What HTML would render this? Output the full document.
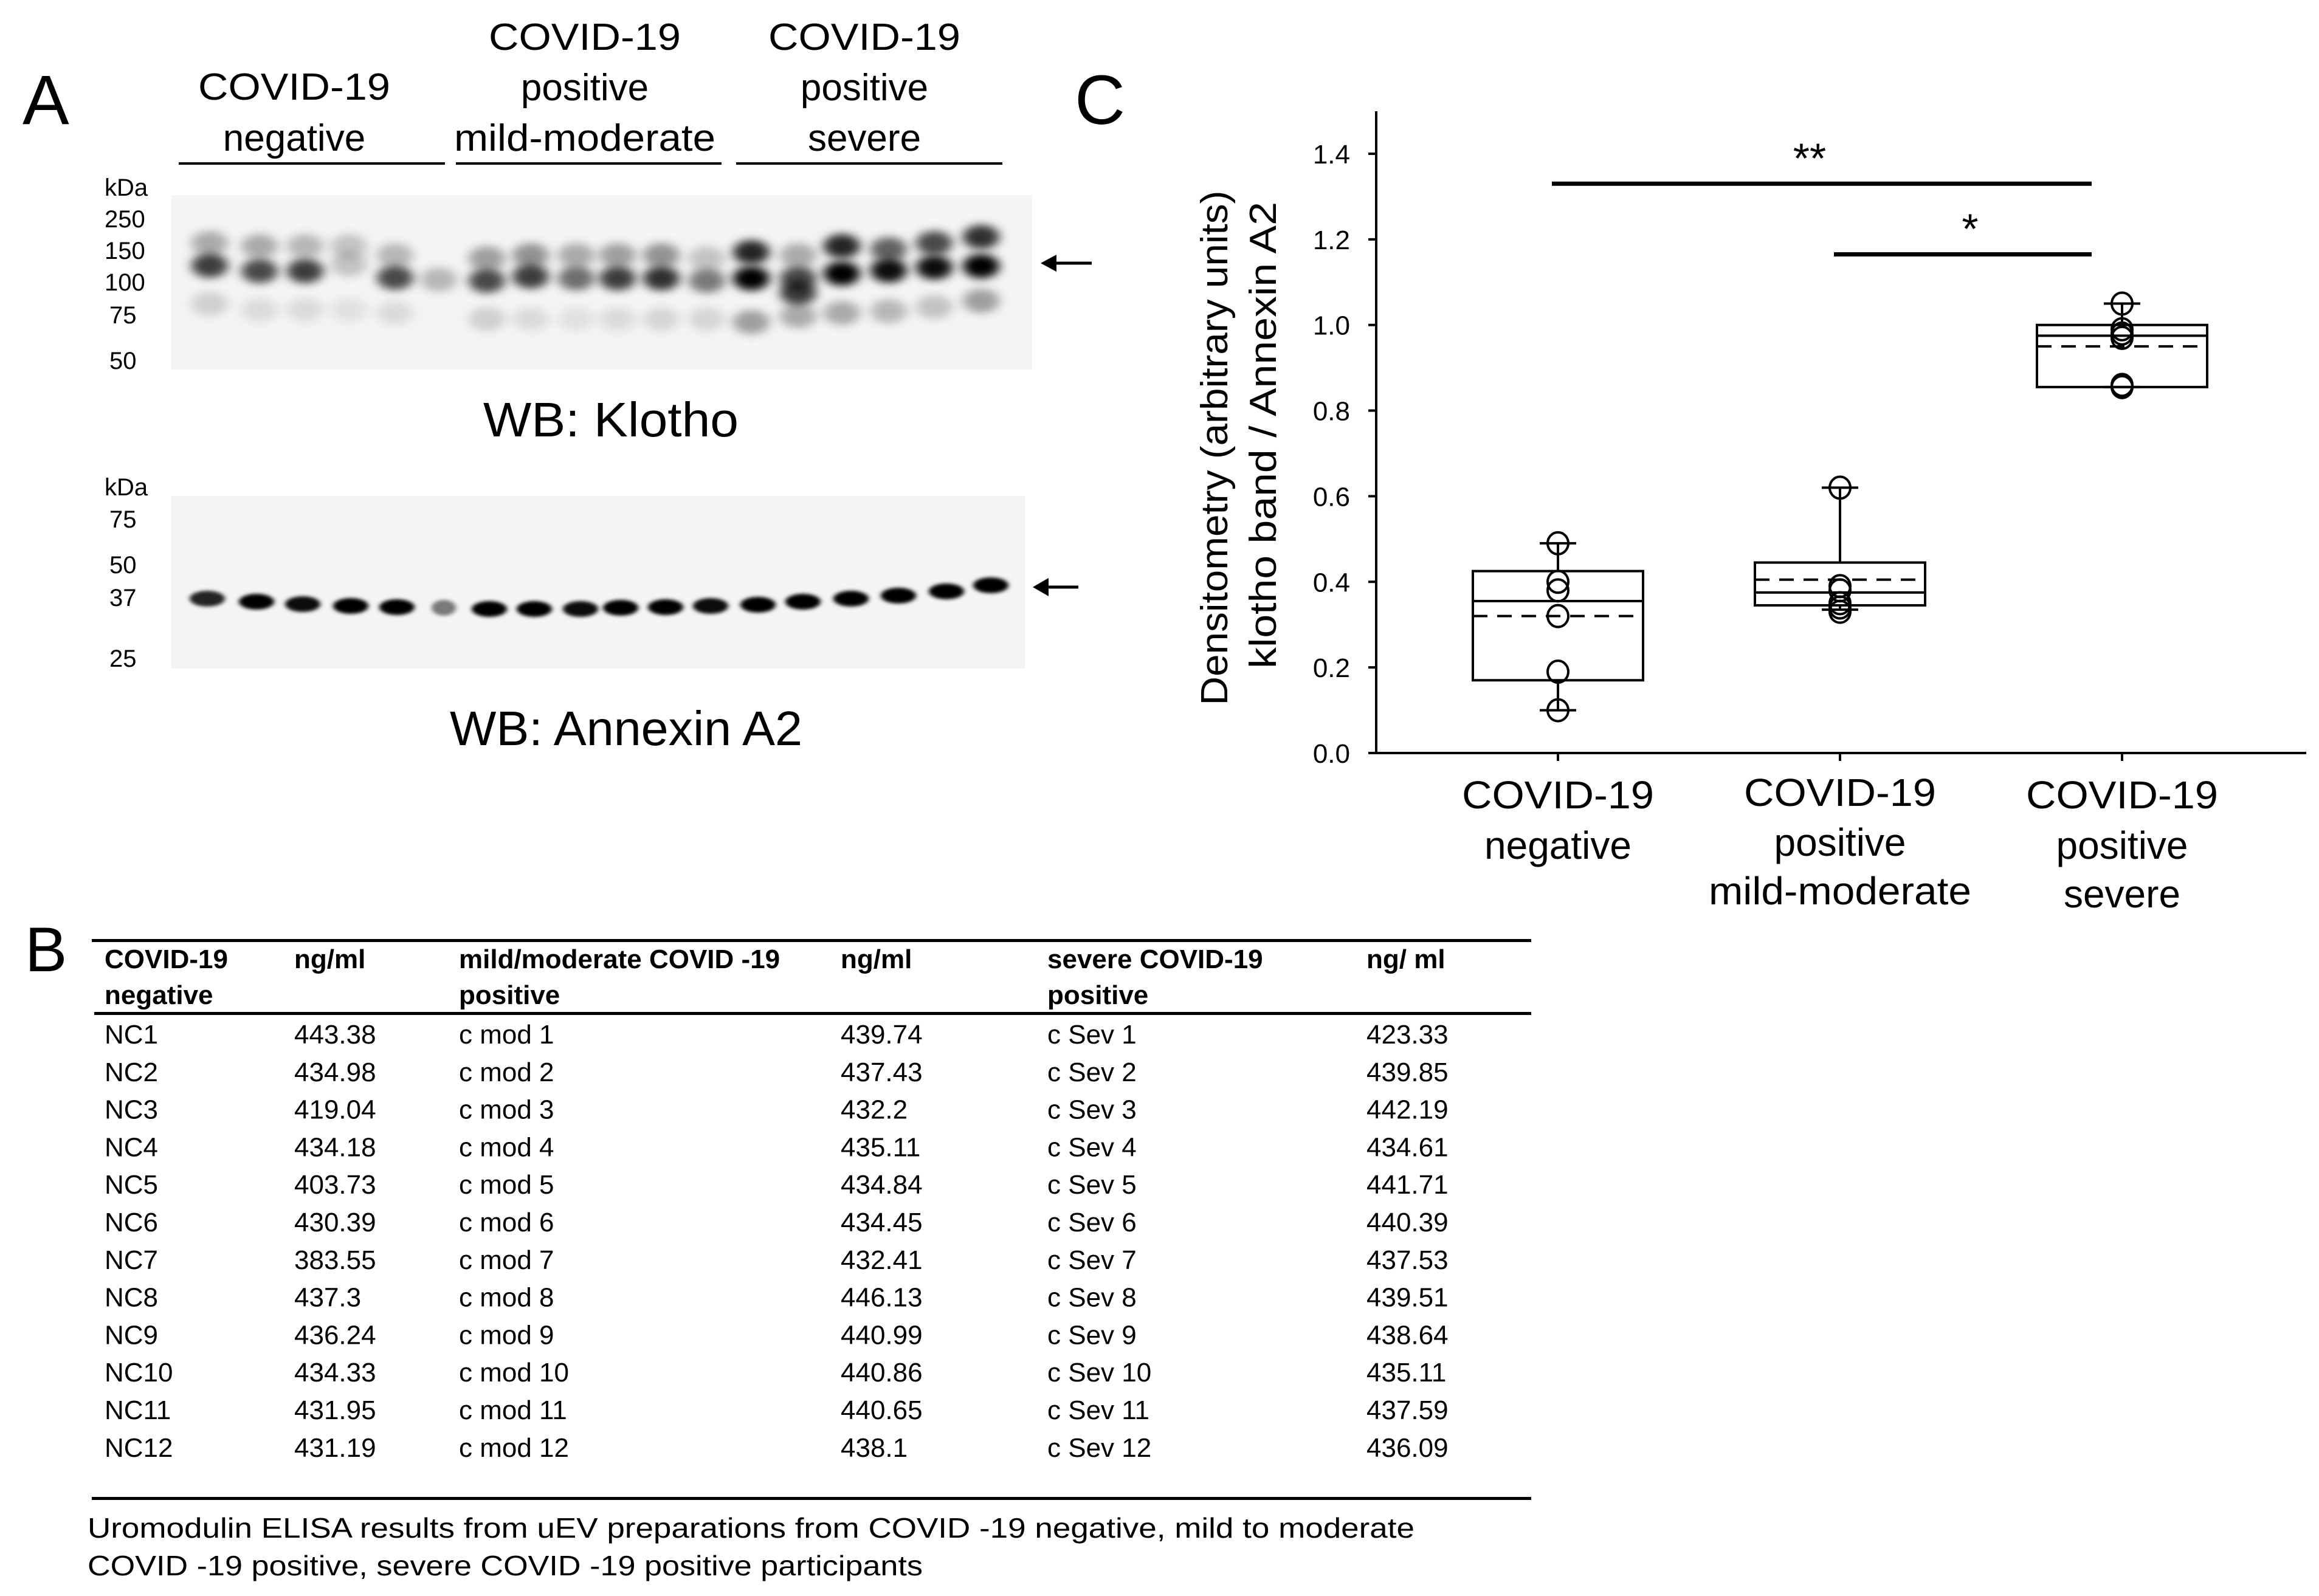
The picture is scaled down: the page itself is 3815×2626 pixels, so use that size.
<!DOCTYPE html>
<html><head><meta charset="utf-8"><style>
html,body{margin:0;padding:0;background:#fff}
svg{display:block}
text{font-family:"Liberation Sans",Arial,sans-serif;fill:#000}
</style></head><body>
<svg id="fig" xmlns="http://www.w3.org/2000/svg" width="3815" height="2626" viewBox="0 0 3815 2626">
<defs>
<filter id="blur6" x="-50%" y="-200%" width="200%" height="500%"><feGaussianBlur stdDeviation="9 7"/></filter>
<filter id="blur3" x="-50%" y="-200%" width="200%" height="500%"><feGaussianBlur stdDeviation="4 3"/></filter>
</defs>
<!-- Panel A -->
<g>
<text x="37" y="204" font-size="115">A</text>
<g font-size="62" text-anchor="middle">
<text x="484" y="164" textLength="316" lengthAdjust="spacingAndGlyphs">COVID-19</text>
<text x="484" y="248">negative</text>
<text x="962" y="82" textLength="316" lengthAdjust="spacingAndGlyphs">COVID-19</text>
<text x="962" y="165">positive</text>
<text x="962" y="248" textLength="430" lengthAdjust="spacingAndGlyphs">mild-moderate</text>
<text x="1422" y="82" textLength="316" lengthAdjust="spacingAndGlyphs">COVID-19</text>
<text x="1422" y="165">positive</text>
<text x="1422" y="248">severe</text>
</g>
<g stroke="#000" stroke-width="4">
<line x1="294" y1="269" x2="732" y2="269"/>
<line x1="750" y1="269" x2="1187" y2="269"/>
<line x1="1211" y1="269" x2="1649" y2="269"/>
</g>
<g font-size="40">
<text x="172" y="322">kDa</text>
<text x="172" y="374">250</text>
<text x="172" y="426">150</text>
<text x="172" y="478">100</text>
<text x="180" y="532">75</text>
<text x="180" y="607">50</text>
</g>
<rect x="282" y="321" width="1416" height="287" fill="#f4f4f4"/>
<g id="klothoBands"></g>
<g><line x1="1730" y1="433" x2="1796" y2="433" stroke="#000" stroke-width="5"/><polygon points="1712,433 1738,419 1738,447" fill="#000"/></g>
<text x="1005" y="718" font-size="80" text-anchor="middle" textLength="420" lengthAdjust="spacingAndGlyphs">WB: Klotho</text>
<g font-size="40">
<text x="172" y="815">kDa</text>
<text x="180" y="868">75</text>
<text x="180" y="943">50</text>
<text x="180" y="997">37</text>
<text x="180" y="1097">25</text>
</g>
<rect x="282" y="816" width="1404" height="284" fill="#f4f4f4"/>
<g id="annexinBands"></g>
<g><line x1="1718" y1="966" x2="1774" y2="966" stroke="#000" stroke-width="5"/><polygon points="1699,966 1725,951 1725,981" fill="#000"/></g>
<text x="1030" y="1226" font-size="80" text-anchor="middle" textLength="580" lengthAdjust="spacingAndGlyphs">WB: Annexin A2</text>
</g>
<!-- Panel C -->
<text x="1768" y="204" font-size="115">C</text>
<g id="chart"></g>
<!-- Panel B -->
<g id="table">
<text x="41" y="1598" font-size="104">B</text>
<rect x="151" y="1545" width="2368" height="5" fill="#000"/>
<rect x="155" y="1665" width="2364" height="5" fill="#000"/>
<rect x="151" y="2463" width="2368" height="5" fill="#000"/>
<g font-size="44" font-weight="bold">
<text x="172" y="1593">COVID-19</text><text x="172" y="1652">negative</text>
<text x="484" y="1593">ng/ml</text>
<text x="755" y="1593">mild/moderate COVID -19</text><text x="755" y="1652">positive</text>
<text x="1383" y="1593">ng/ml</text>
<text x="1723" y="1593">severe COVID-19</text><text x="1723" y="1652">positive</text>
<text x="2248" y="1593">ng/ ml</text>
</g>
<g id="tbody" font-size="44"></g>
<text x="144" y="2530" font-size="46" textLength="2183" lengthAdjust="spacingAndGlyphs">Uromodulin ELISA results from   uEV preparations from COVID -19 negative, mild to moderate</text>
<text x="144" y="2592" font-size="46" textLength="1374" lengthAdjust="spacingAndGlyphs">COVID -19 positive, severe COVID -19 positive participants</text>
</g>
</svg>
<script>
// ---- Chart data (panel C) ----
const categories1 = ["COVID-19","COVID-19","COVID-19"];
const categories2 = ["negative","positive","positive"];
const categories3 = ["","mild-moderate","severe"];
const whiskerLow = [0.10, 0.335, 0.855];
const q1 = [0.17, 0.345, 0.855];
const median = [0.355, 0.375, 0.975];
const meanVals = [0.32, 0.405, 0.95];
const q3 = [0.425, 0.445, 1.0];
const whiskerHigh = [0.49, 0.62, 1.05];
const points = [[0.10,0.19,0.32,0.38,0.40,0.49],[0.33,0.34,0.35,0.38,0.39,0.62],[0.855,0.86,0.97,0.98,0.99,1.05]];
const yTicks = [0.0,0.2,0.4,0.6,0.8,1.0,1.2,1.4];
const yTickLabels = ["0.0","0.2","0.4","0.6","0.8","1.0","1.2","1.4"];
const sigFrom = [0, 1];
const sigTo = [2, 2];
const sigLevel = [1.33, 1.165];
const sigLabel = ["**", "*"];

const NS = "http://www.w3.org/2000/svg";
function mk(tag, attrs, parent){const e=document.createElementNS(NS,tag);for(const k in attrs)e.setAttribute(k,attrs[k]);parent.appendChild(e);return e;}
const X0=2264, X1=3794, Y0=1239, YTOP=183;
function yScale(v){return Y0 - v*(986/1.4);}
function xScale(i){return 2563 + i*464;}
const chart=document.getElementById('chart');
let ax=mk('line',{x1:X0,y1:YTOP,x2:X0,y2:Y0+2,stroke:'#000','stroke-width':4},chart);


let xa=mk('line',{x1:X0-2,y1:Y0,x2:X1,y2:Y0,stroke:'#000','stroke-width':4},chart);


yTicks.forEach((v,i)=>{
  const y=yScale(v);
  const t=mk('line',{x1:X0-13,y1:y,x2:X0,y2:y,stroke:'#000','stroke-width':4},chart);
  
  
  const l=mk('text',{x:2221,y:y+16,'font-size':44,'text-anchor':'end'},chart);
  l.textContent=yTickLabels[i];
  
  
});
const t1=mk('text',{x:0,y:0,'font-size':62,'text-anchor':'middle',textLength:847,lengthAdjust:'spacingAndGlyphs',transform:'translate(2019,737) rotate(-90)'},chart);
t1.textContent='Densitometry (arbitrary units)';


const t2=mk('text',{x:0,y:0,'font-size':62,'text-anchor':'middle',textLength:768,lengthAdjust:'spacingAndGlyphs',transform:'translate(2099,716) rotate(-90)'},chart);
t2.textContent='klotho band / Annexin A2';


categories1.forEach((c,i)=>{
  const cx=xScale(i);
  const tk=mk('line',{x1:cx,y1:Y0,x2:cx,y2:Y0+13,stroke:'#000','stroke-width':4},chart);
  
  
  const lines=[categories1[i],categories2[i],categories3[i]].filter(s=>s);
  const ys = i===1 ? [1326,1408,1488] : [1330,1413,1493];
  lines.forEach((s,j)=>{
    const attrs={x:cx,y:ys[j],'font-size':64,'text-anchor':'middle'};
    if(s==='COVID-19'){attrs.textLength=316;attrs.lengthAdjust='spacingAndGlyphs';}
    if(s==='mild-moderate'){attrs.textLength=432;attrs.lengthAdjust='spacingAndGlyphs';}
    const t=mk('text',attrs,chart);t.textContent=s;
    
    
  });
  const hw=140;
  const g=mk('g',{},chart);
  
  
  mk('line',{x1:cx,y1:yScale(whiskerHigh[i]),x2:cx,y2:yScale(q3[i]),stroke:'#000','stroke-width':4},g);
  mk('line',{x1:cx,y1:yScale(whiskerLow[i]),x2:cx,y2:yScale(q1[i]),stroke:'#000','stroke-width':4},g);
  mk('line',{x1:cx-30,y1:yScale(whiskerHigh[i]),x2:cx+30,y2:yScale(whiskerHigh[i]),stroke:'#000','stroke-width':4},g);
  mk('line',{x1:cx-30,y1:yScale(whiskerLow[i]),x2:cx+30,y2:yScale(whiskerLow[i]),stroke:'#000','stroke-width':4},g);
  const b=mk('rect',{x:cx-hw,y:yScale(q3[i]),width:2*hw,height:yScale(q1[i])-yScale(q3[i]),fill:'none',stroke:'#000','stroke-width':4},g);
  
  
  const m=mk('line',{x1:cx-hw,y1:yScale(median[i]),x2:cx+hw,y2:yScale(median[i]),stroke:'#000','stroke-width':4},g);
  
  
  const mn=mk('line',{x1:cx-hw,y1:yScale(meanVals[i]),x2:cx+hw,y2:yScale(meanVals[i]),stroke:'#000','stroke-width':4,'stroke-dasharray':'24 16'},g);
  
  
  points[i].forEach(v=>{
    const p=mk('ellipse',{cx:cx,cy:yScale(v),rx:17,ry:18,fill:'none',stroke:'#000','stroke-width':4},g);
    
    
  });
});
sigLevel.forEach((v,k)=>{
  const y=yScale(v);
  const xa1=xScale(sigFrom[k])-10, xa2=xScale(sigTo[k])-50;
  const l=mk('line',{x1:xa1,y1:y,x2:xa2,y2:y,stroke:'#000','stroke-width':7},chart);
  
  
  const t=mk('text',{x:(xa1+xa2)/2+(k?12:-20),y:y-18,'font-size':70,'text-anchor':'middle'},chart);
  t.textContent=sigLabel[k];
  
  
});

// ---- Western blot bands ----
const kLaneX=[345,427,502,574,650,722,801,873,948,1016,1088,1163,1236,1313,1385,1462,1537,1614];
const kBands=[
 [[400,.3],[437,.75],[500,.15]],[[405,.3],[446,.7],[510,.1]],[[405,.25],[446,.75],[510,.1]],
 [[405,.2],[435,.2],[510,.08]],[[420,.25],[457,.7],[515,.1]],[[460,.25]],
 [[425,.35],[462,.7],[525,.15]],[[420,.4],[455,.75],[525,.1]],[[420,.3],[458,.55],[525,.08]],
 [[420,.35],[458,.75],[525,.1]],[[420,.4],[458,.8],[525,.12]],[[425,.2],[462,.5],[525,.12]],
 [[415,.85],[458,1],[530,.35]],[[420,.3],[458,.7],[482,.75],[520,.3]],[[405,.85],[450,1],[515,.3]],
 [[410,.6],[445,.95],[512,.25]],[[400,.7],[440,.95],[505,.2]],[[390,.8],[438,1],[495,.35]]];
const kg=document.getElementById('klothoBands');
kLaneX.forEach((x,i)=>{kBands[i].forEach(b=>{
  const e=mk('ellipse',{cx:x,cy:b[0],rx:30,ry:20,fill:'#000','fill-opacity':b[1],filter:'url(#blur6)'},kg);
  
  
});});
const aLaneX=[341,422,498,577,653,730,805,879,955,1021,1095,1169,1247,1321,1400,1478,1557,1630];
const aLaneY=[985,990,994,997,999,1000,1002,1002,1002,1000,999,997,995,990,985,980,973,963];
const aInt=[.85,1,.95,1,1,.5,1,1,.95,1,1,.95,1,1,1,1,1,1];
const ag=document.getElementById('annexinBands');
aLaneX.forEach((x,i)=>{
  const e=mk('ellipse',{cx:x,cy:aLaneY[i],rx:i===5?20:29,ry:13,fill:'#000','fill-opacity':aInt[i],filter:'url(#blur3)'},ag);
  
  
});

// ---- Table B ----
const tNC=["443.38","434.98","419.04","434.18","403.73","430.39","383.55","437.3","436.24","434.33","431.95","431.19"];
const tMod=["439.74","437.43","432.2","435.11","434.84","434.45","432.41","446.13","440.99","440.86","440.65","438.1"];
const tSev=["423.33","439.85","442.19","434.61","441.71","440.39","437.53","439.51","438.64","435.11","437.59","436.09"];
const tb=document.getElementById('tbody');
tNC.forEach((v,i)=>{
  const y=1717+i*61.8;
  const row=mk('g',{},tb);
  
  
  [[172,'NC'+(i+1)],[484,v],[755,'c mod '+(i+1)],[1383,tMod[i]],[1723,'c Sev '+(i+1)],[2248,tSev[i]]].forEach(c=>{
    const t=mk('text',{x:c[0],y:y},row);t.textContent=c[1];
  });
});
</script>
</body></html>
